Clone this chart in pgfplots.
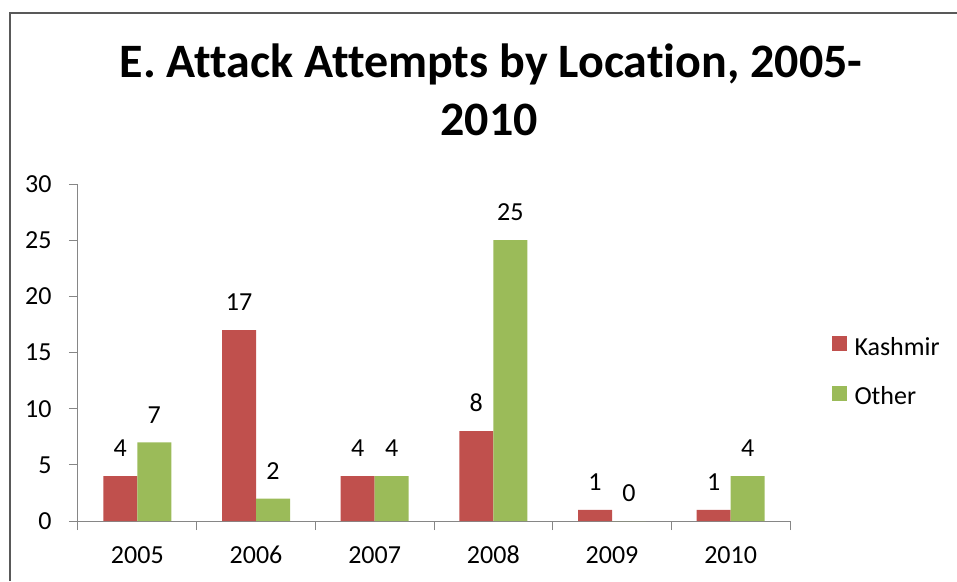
\documentclass[border=0pt]{standalone}
\usepackage{pgfplots}
\pgfplotsset{compat=1.18}
\usepackage{fontspec}
\setmainfont[Ligatures={NoCommon}]{Carlito}
\definecolor{kred}{HTML}{C0504D}
\definecolor{kgreen}{HTML}{9BBB59}
\definecolor{axgray}{HTML}{868686}
\definecolor{frame}{HTML}{595959}
\begin{document}
\begin{tikzpicture}[x=1pt,y=1pt]
\useasboundingbox (0,0) rectangle (957,581);
\draw[frame, line width=2pt] (10,0) -- (10,568) -- (957,568);
\node[anchor=base, font=\bfseries\fontsize{48}{54}\selectfont] at (491,503) {E. Attack Attempts by Location, 2005-};
\node[anchor=base, font=\bfseries\fontsize{48}{54}\selectfont] at (489,445) {2010};
\begin{axis}[
  at={(78pt,60pt)}, anchor=south west,
  scale only axis, width=712pt, height=337pt,
  xmin=-0.5, xmax=5.5, ymin=0, ymax=30,
  ybar=0pt, bar width=34pt,
  axis x line*=bottom, axis y line*=left,
  axis line style={axgray, line width=1pt, -},
  tick style={axgray, line width=1pt},
  tick align=outside, major tick length=9pt,
  xtick={-0.5,0.5,1.5,2.5,3.5,4.5,5.5},
  xticklabels={2005,2006,2007,2008,2009,2010,{}},
  x tick label style={xshift=59.33pt, yshift=-13pt, text height=17pt, text depth=0pt},
  ytick={0,5,...,30},
  y tick label style={xshift=-14pt},
  /pgf/number format/assume math mode=true,
  tick label style={font=\fontsize{26}{30}\selectfont, text=black},
  nodes near coords,
  every node near coord/.append style={font=\fontsize{26}{30}\selectfont, text=black, anchor=south, inner sep=0pt, yshift=19pt},
  legend style={draw=none, fill=none, at={(axis description cs:1.058,0.552)}, anchor=north west,
    font=\fontsize{26}{30}\selectfont, row sep=26pt, inner sep=0pt,
    /tikz/every odd column/.append style={column sep=6pt}},
  legend cell align=left,
  legend image code/.code={\fill[#1] (0pt,-4pt) rectangle (15pt,11pt);},
]
\addplot[fill=kred, draw=none] coordinates {(0,4) (1,17) (2,4) (3,8) (4,1) (5,1)};
\addplot[fill=kgreen, draw=none] coordinates {(0,7) (1,2) (2,4) (3,25) (4,0) (5,4)};
\legend{Kashmir, Other}
\end{axis}
\end{tikzpicture}
\end{document}
